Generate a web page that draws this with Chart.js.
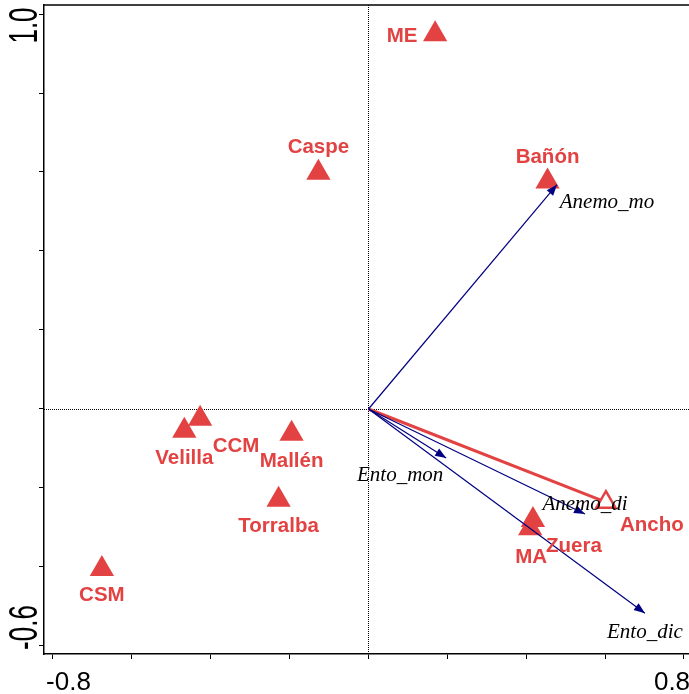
<!DOCTYPE html>
<html>
<head>
<meta charset="utf-8">
<title>Biplot</title>
<script src="https://cdn.jsdelivr.net/npm/chart.js@4/dist/chart.umd.min.js"></script>
<style>
  html, body { margin: 0; padding: 0; background: #fff; }
  #wrap { width: 689px; height: 694px; }
</style>
</head>
<body>
<div id="wrap"><canvas id="c" width="689" height="694"></canvas></div>
<script>
// Sites (samples) on the first two ordination axes
const siteNames = ['ME', 'Caspe', 'Bañón', 'Velilla', 'CCM', 'Mallén', 'Torralba', 'CSM', 'Zuera', 'MA'];
const siteAxis1 = [0.169, -0.127, 0.454, -0.467, -0.427, -0.195, -0.228, -0.676, 0.417, 0.410];
const siteAxis2 = [0.949, 0.598, 0.576, -0.055, -0.025, -0.063, -0.230, -0.405, -0.281, -0.302];

// Explanatory variables drawn as arrows from the origin
const varNames = ['Anemo_mo', 'Ento_mon', 'Anemo_di', 'Ento_dic'];
const varAxis1 = [0.478, 0.197, 0.549, 0.701];
const varAxis2 = [0.568, -0.124, -0.266, -0.517];

// Trait vector (red line ending in an open triangle)
const traitNames = ['Ancho'];
const traitAxis1 = [0.602];
const traitAxis2 = [-0.236];

// Axis ticks
const xTickValues = [-0.8, -0.6, -0.4, -0.2, 0, 0.2, 0.4, 0.6, 0.8];
const yTickValues = [-0.6, -0.4, -0.2, 0, 0.2, 0.4, 0.6, 0.8, 1.0];
const xTickLabels = ['-0.8', '0.8'];
const yTickLabels = ['1.0', '-0.6'];

const RED = '#E34242';
const NAVY = '#000080';
const SANS = '"Liberation Sans", Arial, Helvetica, sans-serif';
const SERIF = '"Liberation Serif", "Times New Roman", Times, serif';

// label offsets in pixels from the mark they describe
const siteLabelOffset = {
  'ME': [-33, 0], 'Caspe': [0, -27], 'Bañón': [0, -26], 'Velilla': [0, 26],
  'CCM': [36, 26], 'Mallén': [0, 26], 'Torralba': [0, 25], 'CSM': [0, 25],
  'Zuera': [41, 25], 'MA': [1, 27]
};
const varLabelOffset = {
  'Anemo_mo': [50, 16], 'Ento_mon': [-46, 15], 'Anemo_di': [0, -12], 'Ento_dic': [0, 17]
};
const traitLabelOffset = { 'Ancho': [46, 21] };
const xTickLabelOffset = { '-0.8': 15.5, '0.8': -12 };
const yTickLabelOffset = { '1.0': 11.5, '-0.6': -18.5 };

const sitePoints = siteNames.map((n, i) => ({ x: siteAxis1[i], y: siteAxis2[i] }));

const datasets = [];
varNames.forEach((n, i) => {
  datasets.push({
    label: n,
    data: [{ x: 0, y: 0 }, { x: varAxis1[i], y: varAxis2[i] }],
    showLine: true,
    borderColor: NAVY,
    borderWidth: 1.2,
    pointRadius: 0,
    order: 0
  });
});
traitNames.forEach((n, i) => {
  datasets.push({
    label: n,
    data: [{ x: 0, y: 0 }, { x: traitAxis1[i], y: traitAxis2[i] }],
    showLine: true,
    borderColor: RED,
    borderWidth: 3,
    pointStyle: 'triangle',
    pointRadius: c => (c.dataIndex === 1 ? 11 : 0),
    pointBackgroundColor: '#fff',
    pointBorderColor: RED,
    pointBorderWidth: 2.5,
    order: 0
  });
});
datasets.push({
  label: 'sites',
  data: sitePoints,
  pointStyle: 'triangle',
  pointRadius: 14,
  pointBackgroundColor: RED,
  pointBorderColor: RED,
  pointBorderWidth: 0,
  showLine: false,
  order: 1
});

// dotted lines through the origin
const zeroLines = {
  id: 'zeroLines',
  beforeDatasetsDraw(chart) {
    const { ctx, chartArea: a, scales: { x, y } } = chart;
    const x0 = Math.round(x.getPixelForValue(0)) + 0.5;
    const y0 = Math.round(y.getPixelForValue(0)) + 0.5;
    ctx.save();
    ctx.strokeStyle = '#000';
    ctx.lineWidth = 1;
    ctx.setLineDash([1, 1]);
    ctx.beginPath();
    ctx.moveTo(x0, a.top); ctx.lineTo(x0, a.bottom);
    ctx.moveTo(a.left, y0); ctx.lineTo(a.right, y0);
    ctx.stroke();
    ctx.restore();
  }
};

function drawText(ctx, text, cx, cy, font, size, color) {
  ctx.font = font;
  ctx.fillStyle = color;
  ctx.textAlign = 'center';
  ctx.textBaseline = 'alphabetic';
  ctx.fillText(text, cx, cy + size * 0.36);
}

// arrowheads, labels, frame and tick labels
const overlay = {
  id: 'overlay',
  afterDatasetsDraw(chart) {
    const { ctx, scales: { x, y } } = chart;
    const ox = x.getPixelForValue(0), oy = y.getPixelForValue(0);
    ctx.save();
    // arrowheads
    varNames.forEach((n, i) => {
      const tx = x.getPixelForValue(varAxis1[i]);
      const ty = y.getPixelForValue(varAxis2[i]);
      const ang = Math.atan2(ty - oy, tx - ox);
      const L = 11, W = 4.2;
      const bx = tx - L * Math.cos(ang), by = ty - L * Math.sin(ang);
      ctx.fillStyle = NAVY;
      ctx.beginPath();
      ctx.moveTo(tx, ty);
      ctx.lineTo(bx + W * Math.sin(ang), by - W * Math.cos(ang));
      ctx.lineTo(bx - W * Math.sin(ang), by + W * Math.cos(ang));
      ctx.closePath();
      ctx.fill();
    });
    // site labels
    siteNames.forEach((n, i) => {
      const px = x.getPixelForValue(siteAxis1[i]);
      const py = y.getPixelForValue(siteAxis2[i]);
      const o = siteLabelOffset[n];
      drawText(ctx, n, px + o[0], py + o[1], 'bold 20.5px ' + SANS, 20.5, RED);
    });
    // variable labels
    varNames.forEach((n, i) => {
      const px = x.getPixelForValue(varAxis1[i]);
      const py = y.getPixelForValue(varAxis2[i]);
      const o = varLabelOffset[n];
      drawText(ctx, n, px + o[0], py + o[1], 'italic 21px ' + SERIF, 21, '#000');
    });
    traitNames.forEach((n, i) => {
      const px = x.getPixelForValue(traitAxis1[i]);
      const py = y.getPixelForValue(traitAxis2[i]);
      const o = traitLabelOffset[n];
      drawText(ctx, n, px + o[0], py + o[1], 'bold 20.5px ' + SANS, 20.5, RED);
    });
    ctx.restore();
  },
  afterDraw(chart) {
    const { ctx, chartArea: a, scales: { x, y } } = chart;
    ctx.save();
    // top frame line
    ctx.strokeStyle = '#000';
    ctx.lineWidth = 1.5;
    ctx.beginPath();
    ctx.moveTo(a.left, a.top);
    ctx.lineTo(a.right, a.top);
    ctx.stroke();
    // x tick labels
    ctx.fillStyle = '#000';
    ctx.font = '26px ' + SANS;
    ctx.textAlign = 'center';
    ctx.textBaseline = 'alphabetic';
    xTickLabels.forEach(t => {
      const px = x.getPixelForValue(parseFloat(t)) + xTickLabelOffset[t];
      ctx.fillText(t, px, 690);
    });
    // y tick labels, rotated
    yTickLabels.forEach(t => {
      const py = y.getPixelForValue(parseFloat(t)) + yTickLabelOffset[t];
      ctx.save();
      ctx.translate(22, py);
      ctx.rotate(-Math.PI / 2);
      ctx.scale(1, 1.55);
      ctx.textAlign = 'center';
      ctx.textBaseline = 'alphabetic';
      ctx.fillText(t, 0, 26 * 0.36);
      ctx.restore();
    });
    ctx.restore();
  }
};

const axisCommon = {
  type: 'linear',
  ticks: { display: false },
  grid: { drawOnChartArea: false, drawTicks: true, tickLength: 5, color: '#000', lineWidth: 1 },
  border: { display: true, color: '#000', width: 1.5 }
};

new Chart(document.getElementById('c').getContext('2d'), {
  type: 'scatter',
  data: { datasets },
  options: {
    responsive: false,
    animation: false,
    devicePixelRatio: 1,
    layout: { autoPadding: false, padding: { top: 5, right: 0, left: 0, bottom: 0 } },
    plugins: { legend: { display: false }, tooltip: { enabled: false } },
    scales: {
      x: Object.assign({}, axisCommon, {
        position: 'bottom',
        min: -0.8228, max: 0.8127,
        afterBuildTicks: s => { s.ticks = xTickValues.map(v => ({ value: v })); },
        afterFit: s => { s.height = 40; }
      }),
      y: Object.assign({}, axisCommon, {
        position: 'left',
        min: -0.6203, max: 1.0228,
        afterBuildTicks: s => { s.ticks = yTickValues.map(v => ({ value: v })); },
        afterFit: s => { s.width = 44; }
      })
    }
  },
  plugins: [zeroLines, overlay]
});
</script>
</body>
</html>
